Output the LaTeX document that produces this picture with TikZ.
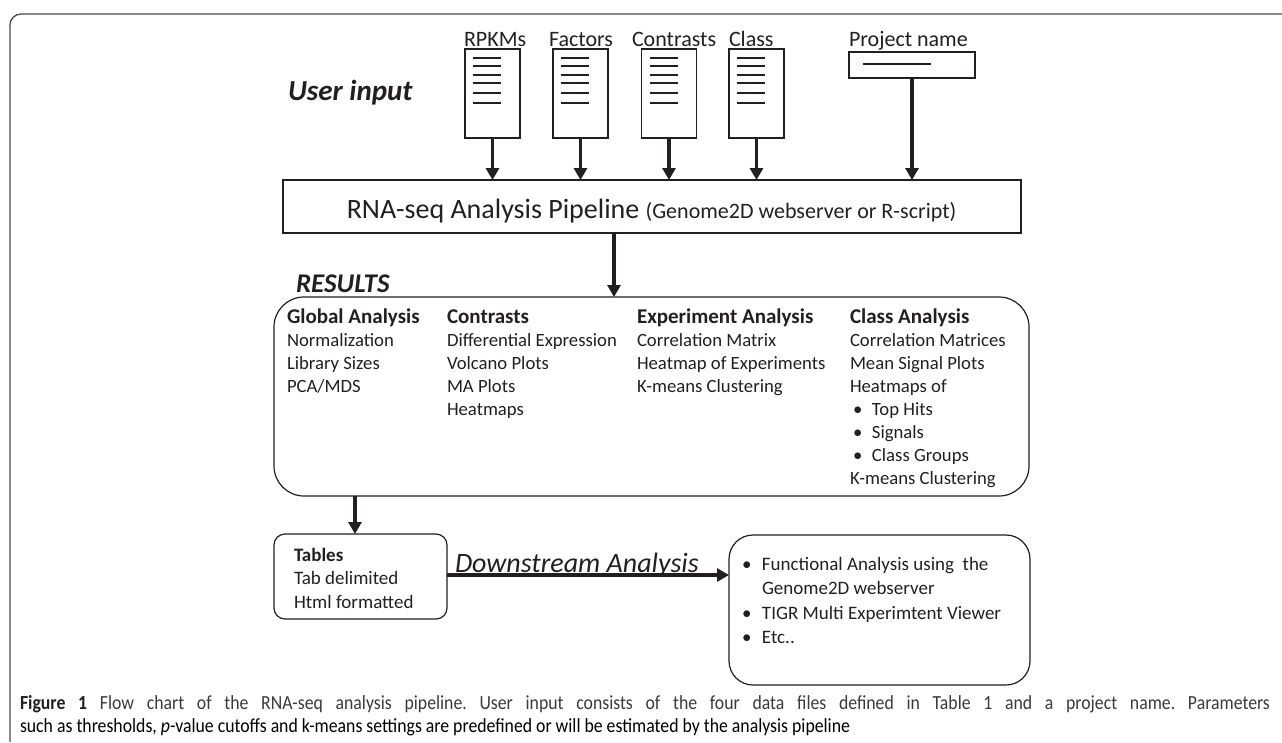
\documentclass[tikz,border=0pt]{standalone}
\usepackage{fontspec}
\usepackage{graphicx}
\setmainfont{Carlito}
\usetikzlibrary{arrows.meta}
\definecolor{ink}{HTML}{231F20}
\definecolor{framecol}{HTML}{4A4A4A}
\definecolor{capcol}{HTML}{3A3A3A}
\newcommand{\toplines}[1]{\begin{tabular}[t]{@{}l@{}}#1\end{tabular}}
\newcommand{\bul}[1]{\makebox[#1][l]{\textbullet}}
\newsavebox\capboxtwo
\newlength\caponewd
\frenchspacing
\begin{document}
\sbox\capboxtwo{\fontsize{20}{22}\selectfont such as thresholds, \textit{p}-value cutoffs and k-means settings are predefined or will be estimated by the analysis pipeline}%
\setlength\caponewd{\dimexpr\wd\capboxtwo*1250/830\relax}%
\begin{tikzpicture}[x=1pt,y=-1pt,
  every node/.style={inner sep=0pt, outer sep=0pt, text=ink},
  docbox/.style={draw=ink, line width=1.2pt, minimum width=55pt, minimum height=89pt},
  projbox/.style={draw=ink, line width=1.2pt, minimum width=126pt, minimum height=26pt},
  pipebox/.style={draw=ink, line width=1.2pt, minimum width=738pt, minimum height=53pt},
  resbox/.style={draw=ink, line width=1.2pt, rounded corners=30pt, minimum width=755pt, minimum height=199pt},
  tabbox/.style={draw=ink, line width=1.2pt, rounded corners=11pt, minimum width=173pt, minimum height=85pt},
  downbox/.style={draw=ink, line width=1.2pt, rounded corners=24pt, minimum width=301pt, minimum height=150pt},
  docline/.style={draw=ink, line width=2pt},
  arr/.style={draw=ink, line width=3.8pt, -{Triangle[width=13pt,length=12pt]}},
  lbl/.style={anchor=base west, font=\fontsize{22}{24}\selectfont},
  col/.style={anchor=base west, font=\fontsize{18.7}{23}\selectfont}
]
\useasboundingbox (0,0) rectangle (1282,742);
% outer frame
\draw[framecol, line width=1.3pt, rounded corners=11pt] (1282,14) -- (10,14) -- (10,742);

% titles
\node[anchor=base west, font=\fontsize{29}{30}\selectfont\bfseries\itshape] (uin) at (288,100) {User input};
\node[anchor=base west, font=\fontsize{27}{28}\selectfont\bfseries\itshape] (resl) at (296,292) {RESULTS};

% input documents
\node[docbox] (rpkm) at (492.5,93.5) {};
\node[docbox] (fact) at (580.5,93.5) {};
\node[docbox] (cont) at (669,93.5) {};
\node[docbox] (clas) at (756.5,93.5) {};
\foreach \n in {rpkm,fact,cont,clas}{
  \foreach \yy in {-35.7,-27.2,-18.8,-10.2,-0.2,9.2}{
    \draw[docline] ([shift={(-19.5,\yy)}]\n.center) -- ++(28,0);
  }
}
\node[lbl] (lrpkm) at (464,46) {RPKMs};
\node[lbl] (lfact) at (549,46) {Factors};
\node[lbl] (lcont) at (632,46) {Contrasts};
\node[lbl] (lclas) at (729,46) {Class};
\node[lbl] (lproj) at (849,46) {Project name};
\node[projbox] (proj) at (912,65) {};
\draw[docline] ([shift={(-49,-1)}]proj.center) -- ++(68,0);

% pipeline
\node[pipebox] (pipe) at (652,206.5) {};
\node[anchor=base, font=\fontsize{28}{30}\selectfont] (pipetxt) at (651.5,218)
  {RNA-seq Analysis Pipeline {\fontsize{22}{24}\selectfont(Genome2D webserver or R-script)}};

\foreach \n in {rpkm,fact,cont,clas,proj}{
  \draw[arr] (\n.south) -- (\n.south |- pipe.north);
}

% results
\node[resbox] (res) at (651.5,396.5) {};
\draw[arr] ([xshift=-38pt]pipe.south) -- ([xshift=-38pt]pipe.south |- res.north);

\node[col] (cglob) at (287,323) {\toplines{{\fontsize{21}{23}\selectfont\bfseries Global Analysis}\\Normalization\\Library Sizes\\PCA/MDS}};
\node[col] (ccont) at (447,323) {\toplines{{\fontsize{21}{23}\selectfont\bfseries Contrasts}\\Differential Expression\\Volcano Plots\\MA Plots\\Heatmaps}};
\node[col] (cexp) at (637,323) {\toplines{{\fontsize{21}{23}\selectfont\bfseries Experiment Analysis}\\Correlation Matrix\\Heatmap of Experiments\\K-means Clustering}};
\node[col] (cclass) at (850,323) {\toplines{{\fontsize{21}{23}\selectfont\bfseries Class Analysis}\\Correlation Matrices\\Mean Signal Plots\\Heatmaps of\\
  \hspace*{3pt}\bul{19pt}Top Hits\\
  \hspace*{3pt}\bul{19pt}Signals\\
  \hspace*{3pt}\bul{19pt}Class Groups\\
  K-means Clustering}};

% tables
\node[tabbox] (tab) at (360.5,576.5) {};
\node[anchor=base west, font=\fontsize{19}{23.5}\selectfont] (tabtxt) at (294,561)
  {\toplines{{\bfseries Tables}\\Tab delimited\\Html formatted}};
\draw[arr] ([xshift=-5.5pt]tab.north |- res.south) -- ([xshift=-5.5pt]tab.north);

% downstream
\node[downbox] (down) at (879.5,610) {};
\node[anchor=base west, font=\fontsize{19}{24.5}\selectfont] (downtxt) at (742,570)
  {\toplines{\bul{20pt}Functional Analysis using\ \ the\\
   \hspace*{20pt}Genome2D webserver\\
   \bul{20pt}TIGR Multi Experimtent Viewer\\
   \bul{20pt}Etc..}};
\draw[arr] ([yshift=1.5pt]tab.east) -- ([yshift=1.5pt]tab.east -| down.west);
\node[anchor=base west, font=\fontsize{28}{30}\selectfont\itshape] (dlab) at (455,572) {Downstream Analysis};

% caption
\node[anchor=base west, font=\fontsize{20}{22}\selectfont, text=capcol] (cap1) at (20,709)
  {\resizebox{1250pt}{\height}{\makebox[\caponewd][s]{\textbf{\color{ink}Figure 1} Flow chart of the RNA-seq analysis pipeline. User input consists of the four data files defined in Table 1 and a project name. Parameters}}};
\node[anchor=base west, font=\fontsize{20}{22}\selectfont, text=capcol] (cap2) at (20,732)
  {\resizebox{830pt}{\height}{\usebox\capboxtwo}};
\end{tikzpicture}
\end{document}
